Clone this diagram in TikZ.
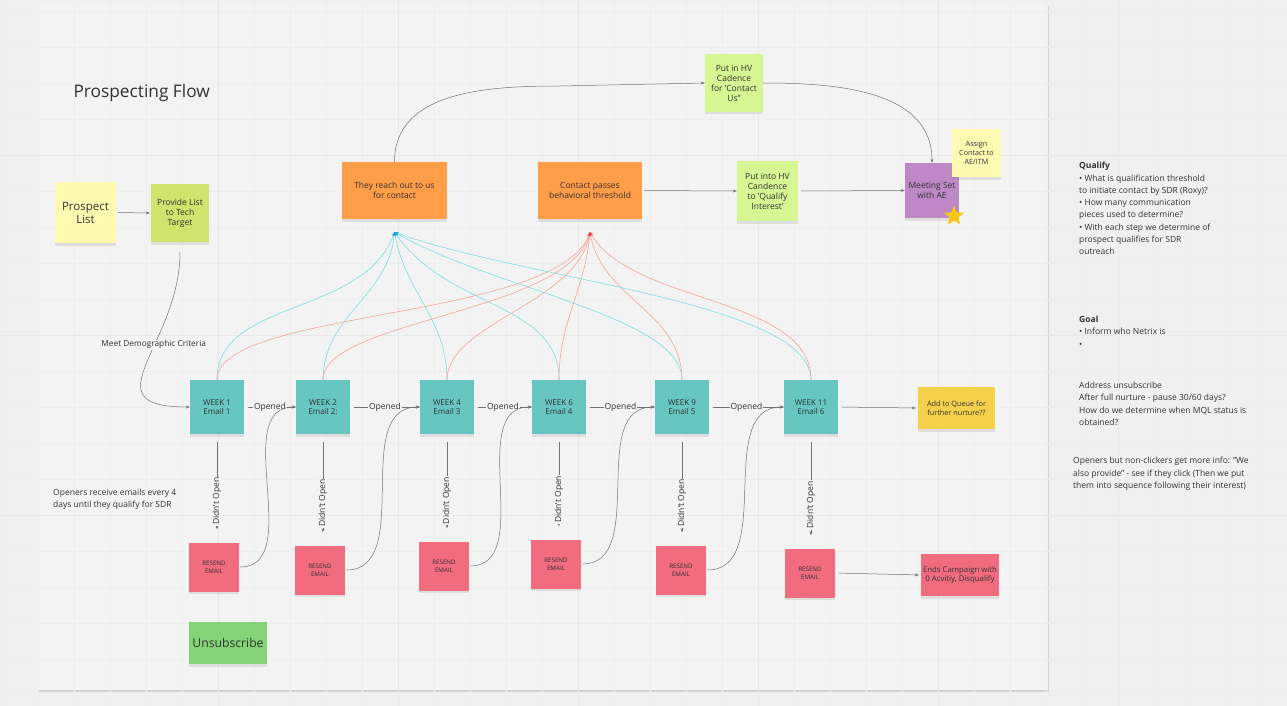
\documentclass[tikz,border=0pt]{standalone}
\usepackage{fontspec}
\setmainfont{Open Sans}
\usetikzlibrary{arrows.meta,calc,positioning,shadows,shapes.geometric}
\definecolor{pageback}{RGB}{240,240,240}
\definecolor{boardback}{RGB}{243,243,243}
\definecolor{gridminor}{RGB}{238,238,238}
\definecolor{gridmajor}{RGB}{232,232,232}
\definecolor{inkgray}{RGB}{50,50,50}
\definecolor{stickyyellow}{RGB}{255,249,177}
\definecolor{stickylime}{RGB}{208,227,108}
\definecolor{stickylight}{RGB}{213,246,146}
\definecolor{stickyorange}{RGB}{255,157,72}
\definecolor{stickypurple}{RGB}{190,136,199}
\definecolor{stickyteal}{RGB}{103,198,192}
\definecolor{stickypink}{RGB}{241,108,127}
\definecolor{stickygold}{RGB}{245,209,75}
\definecolor{stickygreen}{RGB}{134,210,118}
\definecolor{stargold}{RGB}{250,199,16}
\definecolor{reachcyan}{RGB}{125,222,224}
\definecolor{passred}{RGB}{244,165,150}
\tikzset{
  sticky/.style={align=center,inner sep=1pt,text=inkgray,
    drop shadow={shadow xshift=0pt,shadow yshift=-2.5pt,opacity=.18}},
  flow/.style={draw=black!55,line width=.5pt,-{Stealth[length=4pt,width=3pt]}},
  lbl/.style={fill=boardback,inner sep=1pt,text=inkgray,font=\fontsize{8.5}{10}\selectfont},
  memo/.style={align=left,inner sep=0pt,text=inkgray,font=\fontsize{8.5}{12.3}\selectfont},
  reachline/.style={draw=reachcyan,line width=.6pt,-{Stealth[length=4pt,width=3pt,color=cyan!80!teal]}},
  passline/.style={draw=passred,line width=.6pt,-{Stealth[length=4pt,width=3pt,color=red!75]}}
}

\begin{document}
\begin{tikzpicture}[x=1pt,y=1pt,font=\fontsize{8.5}{10}\selectfont]
  % page, board and grid
  \useasboundingbox[fill=pageback] (0,0) rectangle (1287,-706);
  \fill[boardback,drop shadow={shadow xshift=1pt,shadow yshift=-2pt,opacity=.25}] (38,-4) rectangle (1048,-690);
  \foreach \gx in {2,38,...,1286} \draw[gridminor,line width=.4pt] (\gx,0) -- (\gx,-706);
  \foreach \gy in {11,47,...,706} \draw[gridminor,line width=.4pt] (0,-\gy) -- (1287,-\gy);
  \foreach \gx in {218,398,...,1286} \draw[gridmajor,line width=.5pt] (\gx,0) -- (\gx,-706);
  \foreach \gy in {155,335,515} \draw[gridmajor,line width=.5pt] (0,-\gy) -- (1287,-\gy);

  \node[anchor=west,text=inkgray,font=\fontsize{17.3}{20}\selectfont] (title) at (70,-93) {Prospecting Flow};

  % top row
  \node[sticky,fill=stickyyellow,minimum width=61,minimum height=61,font=\fontsize{11.5}{13}\selectfont] (prospect) at (85.5,-212.5) {Prospect\\List};
  \node[sticky,fill=stickylime,minimum width=58,minimum height=58] (provide) at (180,-213) {Provide List\\to Tech\\Target};
  \node[sticky,fill=stickyorange,minimum width=105,minimum height=57] (reach) at (394.5,-190.5) {They reach out to us\\for contact};
  \node[sticky,fill=stickyorange,minimum width=104,minimum height=57] (contact) at (590,-190.5) {Contact passes\\behavioral threshold};
  \node[sticky,fill=stickylight,minimum width=58,minimum height=58] (hvcontact) at (734,-83) {Put in HV\\Cadence\\for 'Contact\\Us"};
  \node[sticky,fill=stickylight,minimum width=61,minimum height=60] (hvqualify) at (767.5,-191) {Put into HV\\Candence\\to 'Qualify\\Interest'};
  \node[sticky,fill=stickypurple,minimum width=54,minimum height=55] (meeting) at (932,-190.5) {Meeting Set\\with AE};
  \node[sticky,fill=stickyyellow,minimum width=49,minimum height=48,font=\fontsize{7.2}{9}\selectfont] (assign) at (976.5,-153) {Assign\\Contact to\\AE/ITM};
  \node[star,star points=5,star point ratio=2.3,fill=stargold,minimum size=21,inner sep=0pt] (star) at (954,-216) {};

  % weekly emails
  \foreach \n/\x/\txt in {1/217/{WEEK 1\\Email 1},2/323/{WEEK 2\\Email 2:},3/447/{WEEK 4\\Email 3},
                          4/559/{WEEK 6\\Email 4},5/682/{WEEK 9\\Email 5},6/811/{WEEK 11\\Email 6}}
    \node[sticky,fill=stickyteal,minimum width=54,minimum height=54,font=\fontsize{8}{9.5}\selectfont] (wk\n) at (\x,-407) {\txt};
  \foreach \n/\x/\y in {1/214/567,2/320/570,3/444/566,4/556/564,5/681/570,6/810/573}
    \node[sticky,fill=stickypink,minimum width=50,minimum height=49,font=\fontsize{6.2}{7.5}\selectfont] (rs\n) at (\x,-\y) {RESEND\\EMAIL};
  \node[sticky,fill=stickygold,minimum width=77,minimum height=42,font=\fontsize{7.3}{9}\selectfont] (queue) at (956.5,-408) {Add to Queue for\\further nurture??};
  \node[sticky,fill=stickypink,minimum width=78,minimum height=42,font=\fontsize{7.8}{9.5}\selectfont] (ends) at (960,-575) {Ends Campaign with\\0 Acvitiy, Disqualify};
  \node[sticky,fill=stickygreen,minimum width=78,minimum height=42,font=\fontsize{12.2}{14}\selectfont] (unsub) at (228,-643) {Unsubscribe};

  % side notes
  \node[memo,anchor=north west] (openers) at (53,-489) {Openers receive emails every 4\\days until they qualify for SDR};
  \node[memo,anchor=north west] (qualify) at (1079,-162) {\textbf{Qualify}\\\textbullet{} What is qualification threshold\\to initiate contact by SDR (Roxy)?\\\textbullet{} How many communication\\pieces used to determine?\\\textbullet{} With each step we determine of\\prospect qualifies for SDR\\outreach};
  \node[memo,anchor=north west] (goal) at (1079,-316) {\textbf{Goal}\\\textbullet{} Inform who Netrix is\\\textbullet};
  \node[memo,anchor=north west] (address) at (1079,-382) {Address unsubscribe\\After full nurture - pause 30/60 days?\\How do we determine when MQL status is\\obtained?};
  \node[memo,anchor=north west] (nonclick) at (1073,-457) {Openers but non-clickers get more info: "We\\also provide" - see if they click (Then we put\\them into sequence following their interest)};

  % connectors
  \coordinate (reachin) at ($(reach.south)+(0,-13)$);
  \coordinate (passin) at ($(contact.south)+(0,-13)$);
  \coordinate (topbend) at (560,-86);
  \draw[flow,shorten <=2pt,shorten >=1pt] (prospect.east) -- (provide.west);
  \draw[flow,shorten <=10pt] (provide.south) to[out=-90,in=180,looseness=1.6] node[lbl,font=\fontsize{8.3}{10}\selectfont,pos=.4] {Meet Demographic Criteria} (wk1.west);
  \draw[black!55,line width=.5pt] (reach.north) to[out=90,in=180] (topbend);
  \draw[flow] (topbend) -- (hvcontact.west);
  \draw[flow] (hvcontact.east) to[out=0,in=90] (meeting.north);
  \draw[flow,shorten <=2pt] (contact.east) -- (hvqualify.west);
  \draw[flow,shorten <=3pt] (hvqualify.east) -- (meeting.west);

  \foreach \n/\cin/\co/\ci/\rin/\ro/\ri in {1/-110/.9/1/-110/.45/.6, 2/-95/1/1/-105/.5/.7, 3/-80/1/1/-100/.7/.9,
                                            4/-55/.9/1.1/-95/1/1, 5/-30/.5/.9/-80/1/1, 6/-20/.45/.8/-60/.8/.8}{
    \draw[reachline] (wk\n.north) to[out=90,in=\cin,out looseness=\co,in looseness=\ci] (reachin);
    \draw[passline] (wk\n.north) to[out=90,in=\rin,out looseness=\ro,in looseness=\ri] (passin);
  }

  \foreach \a/\b in {1/2,2/3,3/4,4/5,5/6}{
    \draw[flow,shorten <=4pt] (wk\a.east) -- node[lbl] {Opened} (wk\b.west);
    \draw[flow,shorten <=1pt] (rs\a.east) to[out=0,in=180] (wk\b.west);
  }
  \foreach \n in {1,...,6}
    \draw[flow,shorten <=8pt,shorten >=13pt] (wk\n.south) -- (wk\n.south |- rs\n.north)
      node[lbl,rotate=90,pos=.62] {Didn't Open};
  \draw[flow,shorten <=4pt,shorten >=2pt] (wk6.east) -- (queue.west);
  \draw[flow,shorten <=4pt,shorten >=2pt] (rs6.east) -- (ends.west);
\end{tikzpicture}
\end{document}
